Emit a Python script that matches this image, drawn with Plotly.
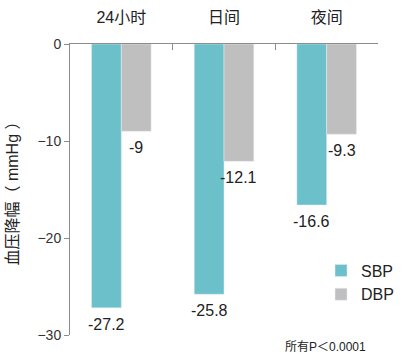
import plotly.graph_objects as go

categories = ["24小时", "日间", "夜间"]
sbp = [-27.2, -25.8, -16.6]
dbp = [-9, -12.1, -9.3]
sbp_labels = ["-27.2", "-25.8", "-16.6"]
dbp_labels = ["-9", "-12.1", "-9.3"]

FONT = "Liberation Sans, Arial, Noto Sans CJK SC, sans-serif"

fig = go.Figure()
fig.add_trace(go.Bar(name="SBP", x=categories, y=sbp, marker_color="#6cc0ca",
                     offsetgroup="s", hoverinfo="skip"))
fig.add_trace(go.Bar(name="DBP", x=categories, y=dbp, marker_color="#bfbfbf",
                     offsetgroup="d", hoverinfo="skip"))

annotations = []
for i, c in enumerate(categories):
    for vals, labs, off in ((sbp, sbp_labels, -0.145), (dbp, dbp_labels, 0.145)):
        annotations.append(dict(x=i + off, y=vals[i], text=labs[i], xref="x", yref="y",
                                yanchor="top", yshift=-6, showarrow=False,
                                font=dict(size=16, color="#222")))

annotations.append(dict(text="所有P＜0.0001", x=1, y=0, xref="paper", yref="paper",
                        xanchor="right", yanchor="top", yshift=-3, xshift=-10, showarrow=False,
                        font=dict(size=12, color="#222")))

fig.update_layout(
    width=411, height=362,
    margin=dict(l=70, r=19, t=44, b=27),
    plot_bgcolor="white", paper_bgcolor="white",
    barmode="group", bargap=0.42, bargroupgap=0,
    font=dict(family=FONT, size=14, color="#222"),
    showlegend=True,
    legend=dict(x=0.815, y=0.28, xanchor="left", yanchor="top",
                font=dict(size=16, color="#222"), bgcolor="rgba(0,0,0,0)",
                itemwidth=30, tracegroupgap=4),
    xaxis=dict(side="top", showline=True, linecolor="#8c8c8c", linewidth=1,
               ticks="inside", tickson="boundaries", ticklen=6, tickcolor="#8c8c8c",
               tickfont=dict(size=16, color="#222"), showgrid=False,
               automargin=False, ticklabelstandoff=14),
    yaxis=dict(range=[-30, 0], dtick=10, showline=True, linecolor="#8c8c8c",
               ticks="outside", ticklen=5, tickcolor="#8c8c8c",
               tickfont=dict(size=14, color="#333"), showgrid=False, zeroline=False,
               automargin=False,
               title=dict(text="血压降幅（ mmHg ）", font=dict(size=16, color="#222"), standoff=14)),
    annotations=annotations,
)

fig.write_html("out.html", config={"displayModeBar": False},
               post_script="document.body.style.margin='0';document.body.style.overflow='hidden';")
